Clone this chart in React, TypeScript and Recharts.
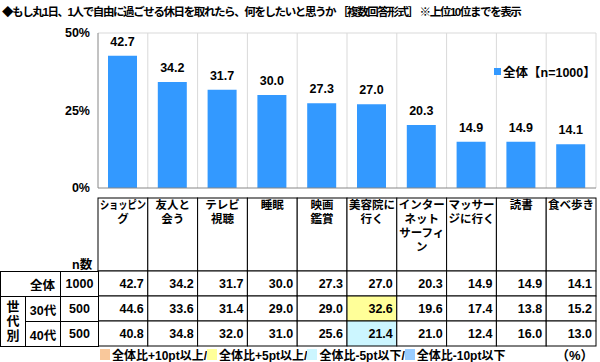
import React from "react";
import {
	Bar,
	BarChart,
	CartesianGrid,
	LabelList,
	Legend,
	XAxis,
	YAxis,
} from "recharts";

// chart data
const categories = [
	"ショッピング",
	"友人と会う",
	"テレビ視聴",
	"睡眠",
	"映画鑑賞",
	"美容院に行く",
	"インターネットサーフィン",
	"マッサージに行く",
	"読書",
	"食べ歩き",
];
const headerLines = [
	["ショッピン", "グ"],
	["友人と", "会う"],
	["テレビ", "視聴"],
	["睡眠"],
	["映画", "鑑賞"],
	["美容院に", "行く"],
	["インター", "ネット", "サーフィ", "ン"],
	["マッサー", "ジに行く"],
	["読書"],
	["食べ歩き"],
];
const totalValues = [42.7, 34.2, 31.7, 30.0, 27.3, 27.0, 20.3, 14.9, 14.9, 14.1];
const age30Values = [44.6, 33.6, 31.4, 29.0, 29.0, 32.6, 19.6, 17.4, 13.8, 15.2];
const age40Values = [40.8, 34.8, 32.0, 31.0, 25.6, 21.4, 21.0, 12.4, 16.0, 13.0];
const rowLabels = ["全体", "30代", "40代"];
const rowCounts = [1000, 500, 500];
const yTicks = [0, 25, 50];
const seriesName = "全体【n=1000】";
const title =
	"◆もし丸1日、1人で自由に過ごせる休日を取れたら、何をしたいと思うか ［複数回答形式］ ※上位10位までを表示";
const footerItems = [
	{ label: "全体比+10pt以上", color: "#f9c89b" },
	{ label: "全体比+5pt以上", color: "#ffff99" },
	{ label: "全体比-5pt以下", color: "#ccf6ff" },
	{ label: "全体比-10pt以下", color: "#99ccff" },
];

const chartData = categories.map((name, i) => ({ name, total: totalValues[i] }));
const tableRows = [totalValues, age30Values, age40Values];

// layout
const W = 600;
const H = 362;
const PLOT_LEFT = 98;
const PLOT_RIGHT = 596;
const HEADER_TOP = 198;
const TABLE_TOP = 271;
const ROW_H = 25;
const BAND = (PLOT_RIGHT - PLOT_LEFT) / categories.length;

const FONT = "'Liberation Sans', 'Noto Sans CJK JP', sans-serif";
const BAR_COLOR = "#3399ff";

const highlight = (value: number, base: number) => {
	const d = value - base;
	if (d >= 10) return footerItems[0].color;
	if (d >= 5) return footerItems[1].color;
	if (d <= -10) return footerItems[3].color;
	if (d <= -5) return footerItems[2].color;
	return "#ffffff";
};

// header cell + table cells under each category tick
const ColumnTick = (props: any) => {
	const { x, payload } = props;
	const i = categories.indexOf(payload.value);
	const left = x - BAND / 2;
	const lines = headerLines[i];
	return (
		<g fontFamily={FONT} fontWeight="bold">
			<rect
				x={left}
				y={HEADER_TOP}
				width={BAND}
				height={TABLE_TOP - HEADER_TOP}
				fill="#fff"
				stroke="#000"
			/>
			{lines.map((line, k) => (
				<text
					key={k}
					x={x}
					y={HEADER_TOP + 11 + k * 14}
					textAnchor="middle"
					fontSize={11.5}
					fill="#000"
					textLength={line.length > 4 ? 46 : undefined}
					lengthAdjust="spacingAndGlyphs"
				>
					{line}
				</text>
			))}
			{tableRows.map((row, r) => (
				<g key={r}>
					<rect
						x={left}
						y={TABLE_TOP + r * ROW_H}
						width={BAND}
						height={ROW_H}
						fill={r === 0 ? "#fff" : highlight(row[i], totalValues[i])}
						stroke="#000"
					/>
					<text
						x={left + BAND - 4}
						y={TABLE_TOP + r * ROW_H + 17}
						textAnchor="end"
						fontSize={12.5}
						fill="#000"
					>
						{row[i].toFixed(1)}
					</text>
				</g>
			))}
		</g>
	);
};

const LegendContent = () => (
	<div
		style={{
			display: "flex",
			alignItems: "center",
			fontFamily: FONT,
			fontWeight: "bold",
			fontSize: 12.5,
			whiteSpace: "nowrap",
		}}
	>
		<span
			style={{
				width: 7,
				height: 7,
				background: BAR_COLOR,
				marginRight: 2,
				display: "inline-block",
			}}
		/>
		{seriesName}
	</div>
);

const cell = (
	left: number,
	top: number,
	width: number,
	height: number,
): React.CSSProperties => ({
	position: "absolute",
	left,
	top,
	width: width + 1,
	height: height + 1,
	boxSizing: "border-box",
	border: "1px solid #000",
	display: "flex",
	alignItems: "center",
	justifyContent: "center",
	background: "#fff",
});

export default function App() {
	return (
		<div
			style={{
				position: "absolute",
				left: 0,
				top: 0,
				width: W,
				height: H,
				background: "#fff",
				fontFamily: FONT,
				fontWeight: "bold",
				color: "#000",
			}}
		>
			<div
				style={{
					position: "absolute",
					left: 2,
					top: 3,
					fontSize: 11.5,
					whiteSpace: "nowrap",
					letterSpacing: -1.4,
				}}
			>
				{title}
			</div>
			<div style={{ position: "absolute", left: 0, top: 0 }}>
				<BarChart
					width={W}
					height={H}
					data={chartData}
					margin={{ top: 33, right: W - PLOT_RIGHT, bottom: 16, left: 0 }}
				>
					<CartesianGrid
						stroke="#d9d9d9"
						verticalCoordinatesGenerator={({ offset }: any) =>
							categories.map(
								(_, k) => offset.left + ((k + 1) * offset.width) / categories.length,
							)
						}
						horizontalCoordinatesGenerator={({ offset }: any) => [offset.top]}
					/>
					<XAxis
						dataKey="name"
						height={158}
						stroke="#868686"
						tickLine={false}
						interval={0}
						tick={<ColumnTick />}
					/>
					<YAxis
						width={PLOT_LEFT}
						domain={[0, 50]}
						ticks={yTicks}
						tickFormatter={(v: number) => `${v}%`}
						stroke="#868686"
						tickLine={false}
						tick={{ fill: "#000", fontSize: 12.5, fontWeight: "bold", fontFamily: FONT }}
					/>
					<Legend
						layout="vertical"
						align="center"
						verticalAlign="middle"
						content={<LegendContent />}
						wrapperStyle={{ left: 494, top: 62, width: 104 }}
					/>
					<Bar
						dataKey="total"
						name={seriesName}
						fill={BAR_COLOR}
						barSize={29}
						isAnimationActive={false}
					>
						<LabelList
							dataKey="total"
							position="top"
							offset={10}
							formatter={(v: number) => v.toFixed(1)}
							style={{ fill: "#000", fontSize: 12.5, fontWeight: "bold", fontFamily: FONT }}
						/>
					</Bar>
				</BarChart>
			</div>
			{/* left side of the table */}
			<div style={{ position: "absolute", left: 72, top: 254, fontSize: 12.5 }}>n数</div>
			<div
				style={{
					...cell(0, TABLE_TOP, 60, ROW_H),
					justifyContent: "flex-end",
					paddingRight: 5,
					fontSize: 12.5,
				}}
			>
				{rowLabels[0]}
			</div>
			<div style={{ ...cell(60, TABLE_TOP, 38, ROW_H), fontSize: 12.5 }}>{rowCounts[0]}</div>
			<div
				style={{
					...cell(0, TABLE_TOP + ROW_H, 25, ROW_H * 2),
					flexDirection: "column",
					fontSize: 13,
					lineHeight: "14.5px",
				}}
			>
				<span>世</span>
				<span>代</span>
				<span>別</span>
			</div>
			{[1, 2].map((r) => (
				<React.Fragment key={r}>
					<div style={{ ...cell(25, TABLE_TOP + r * ROW_H, 35, ROW_H), fontSize: 12.5 }}>
						{rowLabels[r]}
					</div>
					<div style={{ ...cell(60, TABLE_TOP + r * ROW_H, 38, ROW_H), fontSize: 12.5 }}>
						{rowCounts[r]}
					</div>
				</React.Fragment>
			))}
			{/* footer */}
			<div
				style={{
					position: "absolute",
					left: 100,
					top: 346,
					display: "flex",
					alignItems: "center",
					fontSize: 12,
					whiteSpace: "nowrap",
				}}
			>
				{footerItems.map((f, k) => (
					<React.Fragment key={f.label}>
						<span
							style={{
								display: "inline-block",
								width: 10,
								height: 11,
								background: f.color,
								marginRight: 2,
							}}
						/>
						<span>
							{f.label}
							{k < footerItems.length - 1 ? "/" : ""}
						</span>
					</React.Fragment>
				))}
			</div>
			<div style={{ position: "absolute", left: 556, top: 345, fontSize: 13 }}>（%）</div>
		</div>
	);
}
